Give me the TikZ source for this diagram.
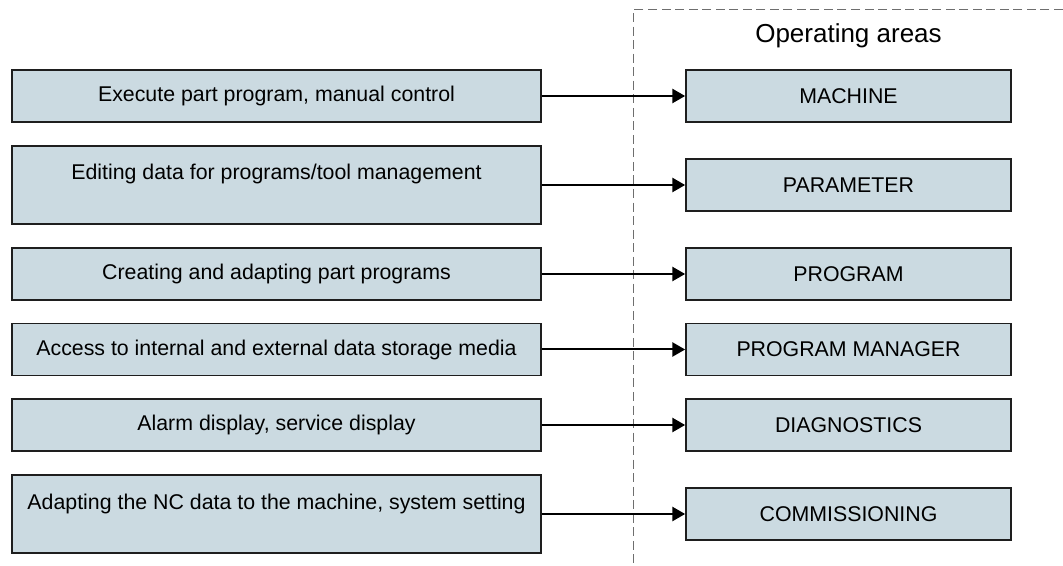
\documentclass[tikz,border=0pt]{standalone}
\usepackage{fontspec}
\setmainfont{Liberation Sans}
\usetikzlibrary{arrows.meta}

\definecolor{areafill}{RGB}{203,218,225}
\definecolor{areadraw}{RGB}{30,30,30}
\definecolor{areadash}{RGB}{110,110,110}

\tikzset{every picture/.style={line width=0.75pt}}
\tikzset{
  areabox/.style={draw=areadraw, fill=areafill, line width=1.3pt, inner sep=0pt,
    minimum height=39pt, font=\fontsize{16pt}{19pt}\selectfont},
  taskbox/.style={areabox, minimum width=396.75pt},
  tallbox/.style={taskbox, minimum height=58.5pt, text height=25.5pt, text depth=33pt},
  menubox/.style={areabox, minimum width=243.75pt},
  linkarrow/.style={line width=1.5pt, -{Triangle[length=9.5pt,width=10.5pt]}}
}

\begin{document}
\begin{tikzpicture}[x=0.75pt,y=0.75pt,yscale=-1,xscale=1]
	\useasboundingbox (0,0) rectangle (1063,566);
	
	%Dashed Lines
	\draw [color=areadash, line width=0.9pt, dash pattern=on 6.75pt off 3.4pt]  (1063,9.5) -- (633.5,9.5) -- (633.5,566) ;
	%Text
	\node [anchor=base, font=\fontsize{19.5pt}{23pt}\selectfont] (title) at (848.5,42.3) {Operating areas};
	
	%Shape: Rectangle
	\node [taskbox] (task1) at (276.5,96) {Execute part program, manual control};
	%Shape: Rectangle
	\node [tallbox] (task2) at (276.5,185) {Editing data for programs/tool management};
	%Shape: Rectangle
	\node [taskbox] (task3) at (276.5,274) {Creating and adapting part programs};
	%Shape: Rectangle
	\node [taskbox] (task4) at (276.5,349.5) {Access to internal and external data storage media};
	%Shape: Rectangle
	\node [taskbox] (task5) at (276.5,425) {Alarm display, service display};
	%Shape: Rectangle
	\node [tallbox] (task6) at (276.5,514) {Adapting the NC data to the machine, system setting};
	
	%Shape: Rectangle
	\node [menubox] (machine) at (848.5,96) {MACHINE};
	%Shape: Rectangle
	\node [menubox] (parameter) at (848.5,185) {PARAMETER};
	%Shape: Rectangle
	\node [menubox] (program) at (848.5,274) {PROGRAM};
	%Shape: Rectangle
	\node [menubox] (manager) at (848.5,349.5) {PROGRAM MANAGER};
	%Shape: Rectangle
	\node [menubox] (diagnostics) at (848.5,425) {DIAGNOSTICS};
	%Shape: Rectangle
	\node [menubox] (commissioning) at (848.5,514) {COMMISSIONING};
	
	%Straight Lines
	\draw [linkarrow]  (task1) -- (machine) ;
	%Straight Lines
	\draw [linkarrow]  (task2) -- (parameter) ;
	%Straight Lines
	\draw [linkarrow]  (task3) -- (program) ;
	%Straight Lines
	\draw [linkarrow]  (task4) -- (manager) ;
	%Straight Lines
	\draw [linkarrow]  (task5) -- (diagnostics) ;
	%Straight Lines
	\draw [linkarrow]  (task6) -- (commissioning) ;
	
\end{tikzpicture}
\end{document}
